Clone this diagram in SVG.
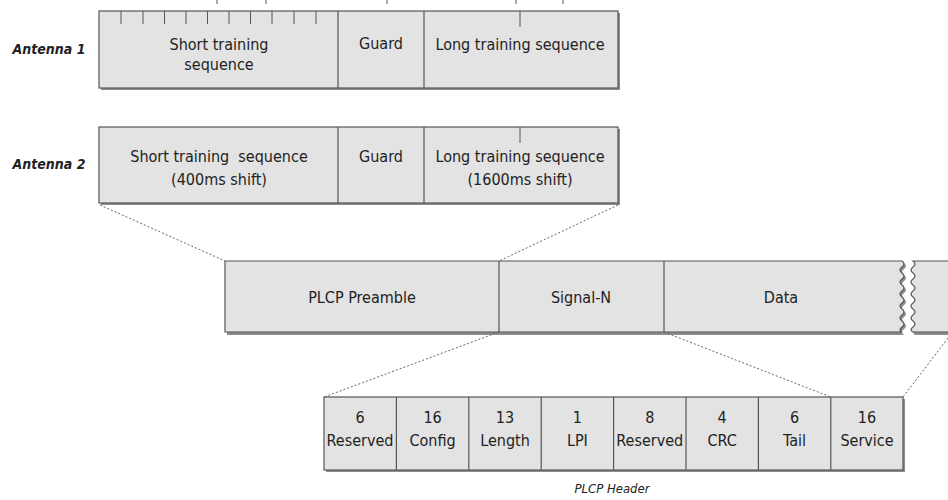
<svg xmlns="http://www.w3.org/2000/svg" width="948" height="500" viewBox="0 0 948 500">
<style>
.box{fill:#e3e3e3;stroke:#555;stroke-width:1.2}
.sh{fill:#8c8c8c}
.div{stroke:#555;stroke-width:1.2}
.tick{stroke:#555;stroke-width:1}
.dash{stroke:#666;stroke-width:1;stroke-dasharray:2,2;fill:none}
text{font-family:"Liberation Sans Narrow","DejaVu Sans Condensed","Liberation Sans",sans-serif;font-size:16px;fill:#222;text-anchor:middle;dominant-baseline:central;white-space:pre}
.lab{font-style:italic;font-weight:bold;font-size:14px}
.cap{font-style:italic;font-size:13px}
</style>
<rect width="948" height="500" fill="#fff"/>
<g id="antenna1">
<text class="lab" x="49" y="49">Antenna 1</text>
<rect class="sh" x="101" y="13" width="519" height="77"/>
<rect class="box" x="99" y="11" width="519" height="77"/>
<line class="div" x1="338" y1="11" x2="338" y2="88"/>
<line class="div" x1="424" y1="11" x2="424" y2="88"/>
<g class="tick">
<line x1="121" y1="11" x2="121" y2="24"/><line x1="143" y1="11" x2="143" y2="24"/><line x1="164.5" y1="11" x2="164.5" y2="24"/><line x1="186" y1="11" x2="186" y2="24"/><line x1="207.5" y1="11" x2="207.5" y2="24"/><line x1="229" y1="11" x2="229" y2="24"/><line x1="250.5" y1="11" x2="250.5" y2="24"/><line x1="272" y1="11" x2="272" y2="24"/><line x1="294" y1="11" x2="294" y2="24"/><line x1="316" y1="11" x2="316" y2="24"/>
<line x1="520" y1="11" x2="520" y2="27"/>
<line x1="217" y1="0" x2="217" y2="4"/><line x1="266" y1="0" x2="266" y2="4"/><line x1="387" y1="0" x2="387" y2="4"/><line x1="516" y1="0" x2="516" y2="4"/><line x1="563" y1="0" x2="563" y2="4"/>
</g>
<text x="219" y="44">Short training</text>
<text x="219" y="64">sequence</text>
<text x="381" y="43">Guard</text>
<text x="520" y="44">Long training sequence</text>
</g>
<g id="antenna2">
<text class="lab" x="49" y="164">Antenna 2</text>
<rect class="sh" x="101" y="129" width="519" height="76"/>
<rect class="box" x="99" y="127" width="519" height="76"/>
<line class="div" x1="338" y1="127" x2="338" y2="203"/>
<line class="div" x1="424" y1="127" x2="424" y2="203"/>
<line class="tick" x1="520" y1="127" x2="520" y2="143"/>
<text x="219" y="156" xml:space="preserve">Short training  sequence</text>
<text x="219" y="179">(400ms shift)</text>
<text x="381" y="156">Guard</text>
<text x="520" y="156">Long training sequence</text>
<text x="520" y="179">(1600ms shift)</text>
</g>
<g id="plcp">
<path class="sh" d="M227 263 H904 q4 3 0 6 q-4 3 0 6 q4 3 0 6 q-4 3 0 6 q4 3 0 6 q-4 3 0 6 q4 3 0 6 q-4 3 0 6 q4 3 0 6 q-4 3 0 6 q4 3 0 6 q-4 3 0 6 H227 Z"/>
<path class="box" d="M225 261 H902 q4 3 0 6 q-4 3 0 6 q4 3 0 6 q-4 3 0 6 q4 3 0 6 q-4 3 0 6 q4 3 0 6 q-4 3 0 6 q4 3 0 6 q-4 3 0 6 q4 3 0 6 q-4 3 0 5 H225 Z"/>
<path class="sh" d="M950 263 H915 q4 3 0 6 q-4 3 0 6 q4 3 0 6 q-4 3 0 6 q4 3 0 6 q-4 3 0 6 q4 3 0 6 q-4 3 0 6 q4 3 0 6 q-4 3 0 6 q4 3 0 6 q-4 3 0 6 H950 Z"/>
<path class="box" d="M950 261 H913 q4 3 0 6 q-4 3 0 6 q4 3 0 6 q-4 3 0 6 q4 3 0 6 q-4 3 0 6 q4 3 0 6 q-4 3 0 6 q4 3 0 6 q-4 3 0 6 q4 3 0 6 q-4 3 0 5 H950"/>
<line class="div" x1="499" y1="261" x2="499" y2="332"/>
<line class="div" x1="664" y1="261" x2="664" y2="332"/>
<text x="362" y="297">PLCP Preamble</text>
<text x="581" y="297">Signal-N</text>
<text x="781" y="297">Data</text>
</g>
<g id="header">
<rect class="sh" x="326" y="399" width="579" height="73"/>
<rect class="box" x="324" y="397" width="579" height="73"/>
<g class="div">
<line x1="396.4" y1="397" x2="396.4" y2="470"/><line x1="468.8" y1="397" x2="468.8" y2="470"/><line x1="541.2" y1="397" x2="541.2" y2="470"/><line x1="613.6" y1="397" x2="613.6" y2="470"/><line x1="686" y1="397" x2="686" y2="470"/><line x1="758.4" y1="397" x2="758.4" y2="470"/><line x1="830.8" y1="397" x2="830.8" y2="470"/>
</g>
<text x="360" y="417">6</text><text x="360" y="440">Reserved</text>
<text x="432.6" y="417">16</text><text x="432.6" y="440">Config</text>
<text x="505" y="417">13</text><text x="505" y="440">Length</text>
<text x="577.4" y="417">1</text><text x="577.4" y="440">LPI</text>
<text x="649.8" y="417">8</text><text x="649.8" y="440">Reserved</text>
<text x="722.2" y="417">4</text><text x="722.2" y="440">CRC</text>
<text x="794.6" y="417">6</text><text x="794.6" y="440">Tail</text>
<text x="867" y="417">16</text><text x="867" y="440">Service</text>
<text class="cap" x="612" y="488">PLCP Header</text>
</g>
<g id="connectors">
<line class="dash" x1="100" y1="205" x2="225" y2="261"/>
<line class="dash" x1="618" y1="205" x2="499" y2="261"/>
<line class="dash" x1="499" y1="332" x2="324" y2="397"/>
<line class="dash" x1="664" y1="332" x2="830.8" y2="397"/>
<line class="dash" x1="948" y1="338" x2="903" y2="397"/>
</g>
</svg>
